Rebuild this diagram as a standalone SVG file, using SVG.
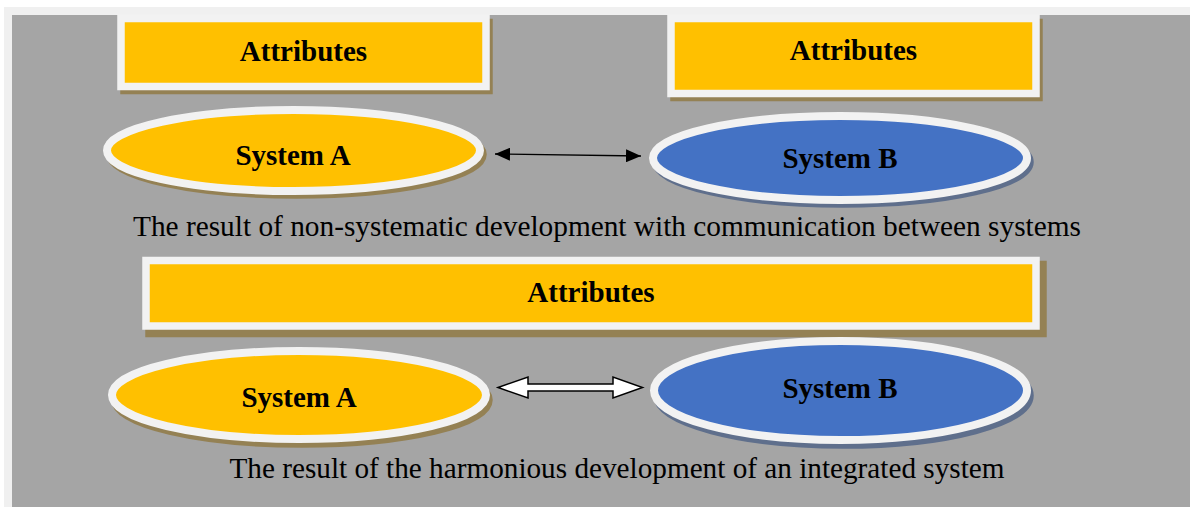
<svg xmlns="http://www.w3.org/2000/svg" width="1190" height="507" viewBox="0 0 1190 507">
<defs>
<style>
.box{fill:#ffc000;stroke:#f2f2f2;stroke-width:7.5}
.shy{fill:#948154;stroke:#948154;stroke-width:7.5}
.shb{fill:#5f6f8c;stroke:#5f6f8c;stroke-width:7.5}
.ey{fill:#ffc000;stroke:#f2f2f2;stroke-width:8}
.eb{fill:#4472c4;stroke:#f2f2f2;stroke-width:8}
.lbl{font-family:"Liberation Serif","Times New Roman",serif;font-weight:bold;font-size:29px;fill:#000;text-anchor:middle}
.cap{font-family:"Liberation Serif","Times New Roman",serif;font-size:29px;fill:#000;text-anchor:middle}
</style>
<marker id="ah" viewBox="0 0 15 13" refX="15" refY="6.5" markerWidth="15" markerHeight="13" markerUnits="userSpaceOnUse" orient="auto-start-reverse">
<path d="M0,0 L15,6.5 L0,13 Z" fill="#000"/>
</marker>
</defs>
<rect x="0" y="0" width="1190" height="507" fill="#ffffff"/>
<rect x="4" y="7" width="1186" height="500" fill="#f0f0f0"/>
<rect x="12" y="15" width="1178" height="492" fill="#a5a5a5"/>

<g id="attr-top-left">
<rect class="shy" x="124" y="22.5" width="365" height="68"/>
<rect class="box" x="121" y="18.5" width="365" height="68"/>
<text class="lbl" x="303.5" y="61">Attributes</text>
</g>
<g id="attr-top-right">
<rect class="shy" x="674" y="22.5" width="365" height="75"/>
<rect class="box" x="671" y="18.5" width="365" height="75"/>
<text class="lbl" x="853.5" y="60">Attributes</text>
</g>
<g id="sysA-top">
<ellipse class="shy" cx="296.5" cy="154.5" rx="186.5" ry="40.5"/>
<ellipse class="ey" cx="293.5" cy="150.5" rx="186.5" ry="40.5"/>
<text class="lbl" x="293" y="165">System A</text>
</g>
<g id="sysB-top">
<ellipse class="shb" cx="843" cy="162" rx="187" ry="42"/>
<ellipse class="eb" cx="840" cy="158" rx="187" ry="42"/>
<text class="lbl" x="840" y="168">System B</text>
</g>
<g id="caption-top">
<text class="cap" x="607" y="236" textLength="948" lengthAdjust="spacingAndGlyphs">The result of non-systematic development with communication between systems</text>
</g>
<g id="attr-middle">
<rect class="shy" x="149" y="264.5" width="894" height="69"/>
<rect class="box" x="146" y="260.5" width="890" height="65.5"/>
<text class="lbl" x="591" y="302">Attributes</text>
</g>
<g id="sysA-bottom">
<ellipse class="shy" cx="302" cy="400" rx="187" ry="44"/>
<ellipse class="ey" cx="299" cy="395" rx="187" ry="44"/>
<text class="lbl" x="299" y="407">System A</text>
</g>
<g id="sysB-bottom">
<ellipse class="shb" cx="843.5" cy="395.5" rx="186.5" ry="49.5"/>
<ellipse class="eb" cx="840.5" cy="390.5" rx="186.5" ry="49.5"/>
<text class="lbl" x="840" y="398">System B</text>
</g>
<g id="caption-bottom">
<text class="cap" x="617" y="478" textLength="775" lengthAdjust="spacingAndGlyphs">The result of the harmonious development of an integrated system</text>
</g>
<g id="connectors">
<line x1="495" y1="154" x2="641" y2="156" stroke="#000" stroke-width="1.3" marker-start="url(#ah)" marker-end="url(#ah)"/>
<polygon points="498,387.5 528,377 528,384 613,384 613,377 642.5,387.5 613,398 613,391 528,391 528,398" fill="#ffffff" stroke="#000" stroke-width="1.5" stroke-linejoin="miter"/>
</g>
</svg>
